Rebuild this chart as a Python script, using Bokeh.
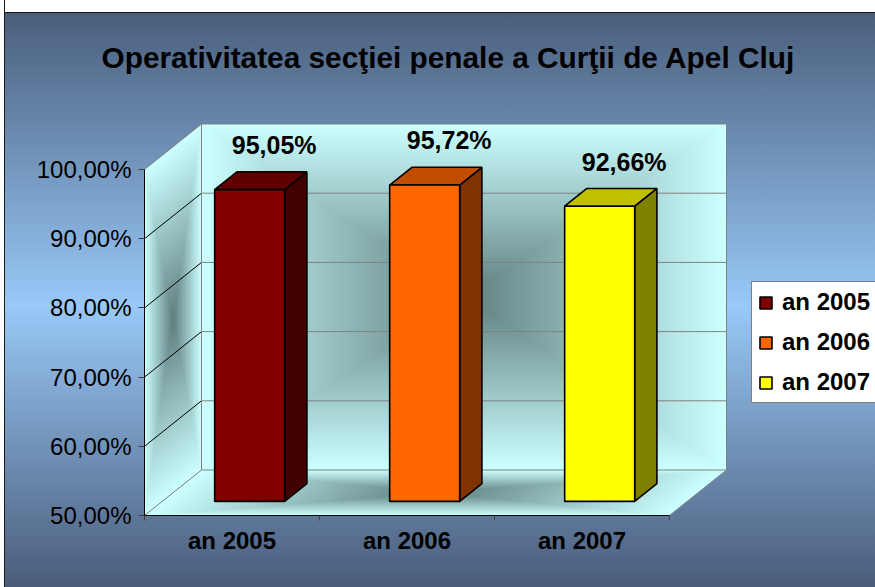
from bokeh.plotting import figure
from bokeh.models import (Range1d, FixedTicker, Legend, LegendItem, Title,
                          ColumnDataSource)
from bokeh.core.properties import value
from bokeh.embed import file_html
from bokeh.resources import INLINE

# ---------------- data ----------------
title = "Operativitatea secţiei penale a Curţii de Apel Cluj"
categories = ["an 2005", "an 2006", "an 2007"]
values = [95.05, 95.72, 92.66]
value_labels = ["95,05%", "95,72%", "92,66%"]
y_ticks = [50, 60, 70, 80, 90, 100]
y_tick_labels = ["50,00%", "60,00%", "70,00%", "80,00%", "90,00%", "100,00%"]
front_colors = ["#800000", "#ff6600", "#ffff00"]
side_colors = ["#400000", "#803300", "#808000"]
top_colors = ["#600000", "#c04d00", "#c0c000"]

# ---------------- style / projection constants ----------------
FONT = "Liberation Sans"
PX_X = 175.0         # pixels per category
PX_Y = 6.92          # pixels per percent
FRAME_L, FRAME_T, FRAME_B = 144, 110, 515
W, H = 875, 587
DX = 57 / PX_X       # depth offset in category units
DV = 45.5 / PX_Y     # depth offset in percent units
BAR_HALF = 0.2
Z0, Z1 = 0.31, 0.70
LABEL_Z = 0.74
YMIN, YMAX = y_ticks[0], y_ticks[-1]
NCAT = len(categories)
WALL_EDGE = (0xcc, 0xff, 0xff)
WALL_CENTER = (0x5f, 0x7d, 0x7d)
NLEV = 60


def proj(x, v, z):
    return x + z * DX, v + z * DV


def poly(pts):
    xs, ys = [], []
    for (x, v, z) in pts:
        a, b = proj(x, v, z)
        xs.append(a)
        ys.append(b)
    return xs, ys


def mix(s):
    c = [int(round(WALL_CENTER[i] + (WALL_EDGE[i] - WALL_CENTER[i]) * s)) for i in range(3)]
    return "#%02x%02x%02x" % tuple(c)


p = figure(width=W, height=H,
           x_range=Range1d(0, (W - FRAME_L) / PX_X),
           y_range=Range1d(YMIN, YMIN + (FRAME_B - FRAME_T) / PX_Y),
           output_backend="svg", toolbar_location=None,
           min_border_left=FRAME_L, min_border_right=0, min_border_top=FRAME_T,
           min_border_bottom=H - FRAME_B,
           border_fill_color=None, background_fill_color=None,
           outline_line_color=None)
p.styles = {
    "background": "linear-gradient(to right, #ffffff 0px, #ffffff 4px, #1a1a1a 4px, "
                  "#1a1a1a 5px, rgba(0,0,0,0) 5px), "
                  "linear-gradient(to bottom, #ffffff 0px, #ffffff 12px, #1a1a1a 12px, "
                  "#1a1a1a 13px, #4a5e7c 13px, #99c9f8 52%, #4a5c7a 100%)",
}
p.grid.visible = False

p.title = Title(text=title, align="left", offset=-43, standoff=74,
                text_font=FONT, text_font_style="bold", text_font_size="29.8px",
                text_color="black")

# ---------------- walls with centre gradient ----------------
wxs, wys, wcol = [], [], []
cx, cv = NCAT / 2.0, (YMIN + YMAX) / 2.0
hx, hv = NCAT / 2.0, (YMAX - YMIN) / 2.0
for k in range(NLEV):
    s = 1.0 - k / NLEV
    col = mix(s)
    x0, x1 = cx - hx * s, cx + hx * s
    v0, v1 = cv - hv * s, cv + hv * s
    xs, ys = poly([(x0, v0, 1), (x1, v0, 1), (x1, v1, 1), (x0, v1, 1)])
    wxs.append(xs); wys.append(ys); wcol.append(col)
    z0, z1 = 0.5 - 0.5 * s, 0.5 + 0.5 * s
    xs, ys = poly([(0, v0, z0), (0, v0, z1), (0, v1, z1), (0, v1, z0)])
    wxs.append(xs); wys.append(ys); wcol.append(col)
    xs, ys = poly([(x0, YMIN, z0), (x1, YMIN, z0), (x1, YMIN, z1), (x0, YMIN, z1)])
    wxs.append(xs); wys.append(ys); wcol.append(col)
p.patches(wxs, wys, fill_color=wcol, line_color=None)

# gridlines on back wall (gray) and side wall diagonals (black)
gx0, gy0, gx1, gy1 = [], [], [], []
for t in y_ticks:
    a, b = proj(0, t, 1)
    c, d = proj(NCAT, t, 1)
    gx0.append(a); gy0.append(b); gx1.append(c); gy1.append(d)
p.segment(gx0, gy0, gx1, gy1, line_color="#808080", line_width=1)
dx0, dy0, dx1, dy1 = [], [], [], []
for t in y_ticks[1:-1]:
    a, b = proj(0, t, 0)
    c, d = proj(0, t, 1)
    dx0.append(a); dy0.append(b); dx1.append(c); dy1.append(d)
p.segment(dx0, dy0, dx1, dy1, line_color="#000000", line_width=1)
ex, ey = [], []
for pts in [[(0, YMAX, 0), (0, YMAX, 1)], [(0, YMIN, 0), (0, YMIN, 1)],
            [(NCAT, YMIN, 0), (NCAT, YMIN, 1)],
            [(0, YMIN, 1), (0, YMAX, 1)], [(NCAT, YMIN, 1), (NCAT, YMAX, 1)]]:
    xs, ys = poly(pts)
    ex.append(xs); ey.append(ys)
p.multi_line(ex, ey, line_color="#808080", line_width=1)

# ---------------- bars ----------------
sx, sy, tx, ty, fx, fy = [], [], [], [], [], []
for i, v in enumerate(values):
    c = i + 0.5
    x0, x1 = c - BAR_HALF, c + BAR_HALF
    xs, ys = poly([(x1, YMIN, Z0), (x1, YMIN, Z1), (x1, v, Z1), (x1, v, Z0)])
    sx.append(xs); sy.append(ys)
    xs, ys = poly([(x0, v, Z0), (x1, v, Z0), (x1, v, Z1), (x0, v, Z1)])
    tx.append(xs); ty.append(ys)
    xs, ys = poly([(x0, YMIN, Z0), (x1, YMIN, Z0), (x1, v, Z0), (x0, v, Z0)])
    fx.append(xs); fy.append(ys)
p.patches(sx, sy, fill_color=side_colors, line_color="black", line_width=1.6)
p.patches(tx, ty, fill_color=top_colors, line_color="black", line_width=1.6)
front_src = ColumnDataSource(dict(xs=fx, ys=fy, color=front_colors))
front_r = p.patches("xs", "ys", source=front_src, fill_color="color",
                    line_color="black", line_width=1.6)

# value labels
lx = [i + 0.5 + LABEL_Z * DX for i in range(NCAT)]
ly = [v + LABEL_Z * DV for v in values]
p.text(lx, ly, text=value_labels, text_align="center", text_baseline="bottom",
       y_offset=-11, text_font=value(FONT), text_font_style="bold",
       text_font_size="25px", text_color="black")

# ---------------- axes ----------------
ya = p.yaxis[0]
ya.ticker = FixedTicker(ticks=y_ticks)
ya.major_label_overrides = {t: l for t, l in zip(y_ticks, y_tick_labels)}
ya.bounds = (YMIN, YMAX)
ya.major_tick_in = 0
ya.major_tick_out = 6
ya.minor_tick_in = 0
ya.minor_tick_out = 0
ya.major_label_standoff = 7
ya.major_label_text_font = FONT
ya.major_label_text_font_size = "24px"
ya.major_label_text_color = "black"
ya.axis_line_color = "black"
ya.major_tick_line_color = "#404040"

xa = p.xaxis[0]
xa.ticker = FixedTicker(ticks=[i + 0.5 for i in range(NCAT)],
                        minor_ticks=list(range(NCAT + 1)))
xa.major_label_overrides = {i + 0.5: c for i, c in enumerate(categories)}
xa.bounds = (0, NCAT)
xa.major_tick_in = 0
xa.major_tick_out = 0
xa.minor_tick_in = 0
xa.minor_tick_out = 5
xa.minor_tick_line_color = "#404040"
xa.major_label_standoff = 6
xa.major_label_text_font = FONT
xa.major_label_text_font_style = "bold"
xa.major_label_text_font_size = "24px"
xa.major_label_text_color = "black"
xa.axis_line_color = "black"

# ---------------- legend ----------------
legend = Legend(items=[LegendItem(label=categories[i], renderers=[front_r], index=i)
                       for i in range(NCAT)],
                location=(607, 112), margin=0, padding=6, spacing=12,
                glyph_width=15, glyph_height=15, label_height=28,
                label_standoff=9, label_text_font=FONT, label_text_font_style="bold",
                label_text_font_size="24px", label_text_color="black",
                border_line_color="black", border_line_width=1,
                background_fill_color="white", background_fill_alpha=1)
p.add_layout(legend)

open("out.html", "w").write(file_html(p, INLINE))
